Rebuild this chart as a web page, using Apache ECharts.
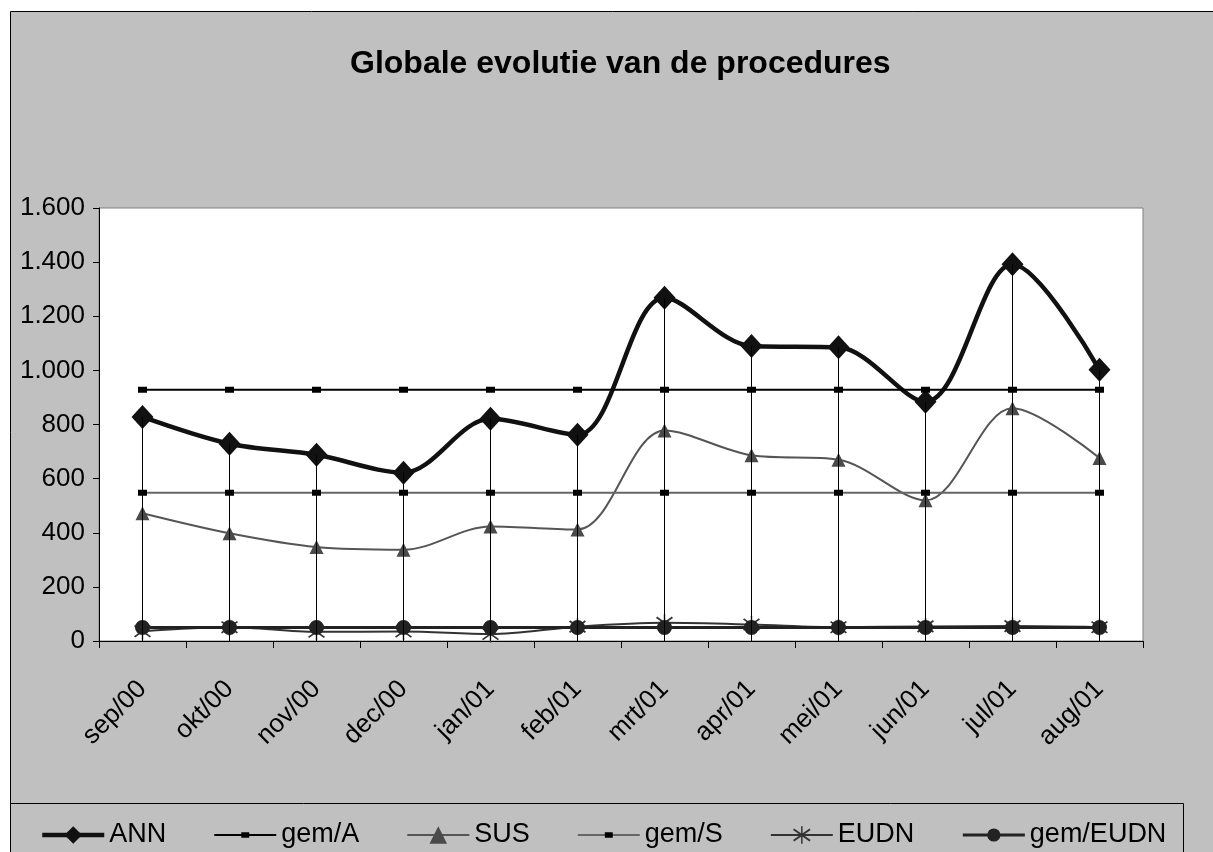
<!DOCTYPE html>
<html>
<head>
<meta charset="utf-8">
<script src="https://cdn.jsdelivr.net/npm/echarts@6/dist/echarts.min.js"></script>
<style>
  html, body { margin: 0; padding: 0; background: #fff; overflow: hidden; }
  #main { width: 1213px; height: 852px; }
</style>
</head>
<body>
<div id="main"></div>
<script>
// maanden
var months = ['sep/00', 'okt/00', 'nov/00', 'dec/00', 'jan/01', 'feb/01',
              'mrt/01', 'apr/01', 'mei/01', 'jun/01', 'jul/01', 'aug/01'];

var ann     = [828, 729, 688, 622, 821, 762, 1268, 1090, 1085, 884, 1392, 1002];
var gemA    = [928, 928, 928, 928, 928, 928, 928, 928, 928, 928, 928, 928];
var sus     = [472, 398, 347, 337, 423, 412, 778, 686, 670, 520, 860, 676];
var gemS    = [548, 548, 548, 548, 548, 548, 548, 548, 548, 548, 548, 548];
var eudn    = [36, 51, 34, 35, 26, 53, 67, 61, 51, 54, 55, 51];
var gemEudn = [50, 50, 50, 50, 50, 50, 50, 50, 50, 50, 50, 50];

var yTicks = [0, 200, 400, 600, 800, 1000, 1200, 1400, 1600];

var font = 'Liberation Sans, Arial, sans-serif';
// asterisk voor EUDN
var star = 'path://M9.2,0H10.8V20H9.2Z M0.6,4.2L1.8,2.6L19.4,15.8L18.2,17.4Z M18.2,2.6L19.4,4.2L1.8,17.4L0.6,15.8Z';
// klein blokje met lege rand (zodat het ook in de legende klein blijft)
var smallRect = 'path://M0,0h0.01v0.01h-0.01Z M20,20h-0.01v-0.01h0.01Z M5.5,7H14.5V13H5.5Z';
var dot = 'path://M0,0h0.01v0.01h-0.01Z M20,20h-0.01v-0.01h0.01Z M10,2.5A7.5,7.5 0 1 1 9.99,2.5Z';

// drop lines van ANN naar de as
var drop = months.map(function (m, i) {
  return [{ coord: [i, ann[i]] }, { coord: [i, 0] }];
});

var chart = echarts.init(document.getElementById('main'));
chart.setOption({
  backgroundColor: '#fff',
  animation: false,
  textStyle: { fontFamily: font, color: '#000' },
  graphic: [
    { type: 'rect', z: -100, shape: { x: 10.5, y: 11.5, width: 1300, height: 900 },
      style: { fill: '#c0c0c0', stroke: '#000', lineWidth: 1 } },
    { type: 'rect', z: 100, shape: { x: 10.5, y: 803.5, width: 1173, height: 100 },
      style: { fill: 'none', stroke: '#000', lineWidth: 1 } }
  ],
  title: {
    text: 'Globale evolutie van de procedures',
    left: 345, top: 43,
    textStyle: { fontFamily: font, fontSize: 32, fontWeight: 'bold', color: '#000' }
  },
  legend: {
    left: 35, top: 816,
    itemWidth: 62, itemHeight: 22, itemGap: 47,
    lineStyle: { width: 'inherit' },
    textStyle: { fontFamily: font, fontSize: 27, color: '#000', lineHeight: 28 }
  },
  grid: {
    left: 99, right: 70, top: 208, bottom: 211,
    show: true, backgroundColor: '#fff', borderColor: '#808080', borderWidth: 1,
    outerBoundsMode: 'none'
  },
  xAxis: {
    type: 'category', data: months, boundaryGap: true,
    axisLine: { lineStyle: { color: '#000', width: 1 } },
    axisTick: { show: true, length: 7, lineStyle: { color: '#000' } },
    axisLabel: { rotate: 45, fontSize: 26, color: '#000', margin: 44, fontFamily: font }
  },
  yAxis: {
    type: 'value', min: yTicks[0], max: yTicks[yTicks.length - 1], interval: 200,
    splitLine: { show: false },
    axisLine: { show: true, lineStyle: { color: '#000', width: 1 } },
    axisTick: { show: true, length: 6, lineStyle: { color: '#000' } },
    axisLabel: {
      fontSize: 26, color: '#000', margin: 14, fontFamily: font,
      formatter: function (v) { return String(v).replace(/\B(?=(\d{3})+(?!\d))/g, '.'); }
    }
  },
  series: [
    {
      name: 'ANN', type: 'line', data: ann, smooth: 0.33,
      symbol: 'diamond', symbolSize: [22, 24],
      lineStyle: { color: '#111', width: 4.5 }, itemStyle: { color: '#111' },
      markLine: {
        silent: true, symbol: ['none', 'none'], label: { show: false },
        lineStyle: { color: '#000', width: 1, type: 'solid' },
        data: drop
      }
    },
    {
      name: 'gem/A', type: 'line', data: gemA,
      symbol: smallRect, symbolSize: 20,
      lineStyle: { color: '#000', width: 2 }, itemStyle: { color: '#000' }
    },
    {
      name: 'SUS', type: 'line', data: sus, smooth: 0.33,
      symbol: 'triangle', symbolSize: [14, 14],
      lineStyle: { color: '#555', width: 2 }, itemStyle: { color: '#4a4a4a' }
    },
    {
      name: 'gem/S', type: 'line', data: gemS,
      symbol: smallRect, symbolSize: 20,
      lineStyle: { color: '#666', width: 2 }, itemStyle: { color: '#000' }
    },
    {
      name: 'EUDN', type: 'line', data: eudn, smooth: 0.33,
      symbol: star, symbolSize: [17, 17],
      lineStyle: { color: '#333', width: 2 }, itemStyle: { color: '#333' }
    },
    {
      name: 'gem/EUDN', type: 'line', data: gemEudn,
      symbol: dot, symbolSize: 20,
      lineStyle: { color: '#222', width: 3 }, itemStyle: { color: '#222' }
    }
  ]
});
</script>
</body>
</html>
